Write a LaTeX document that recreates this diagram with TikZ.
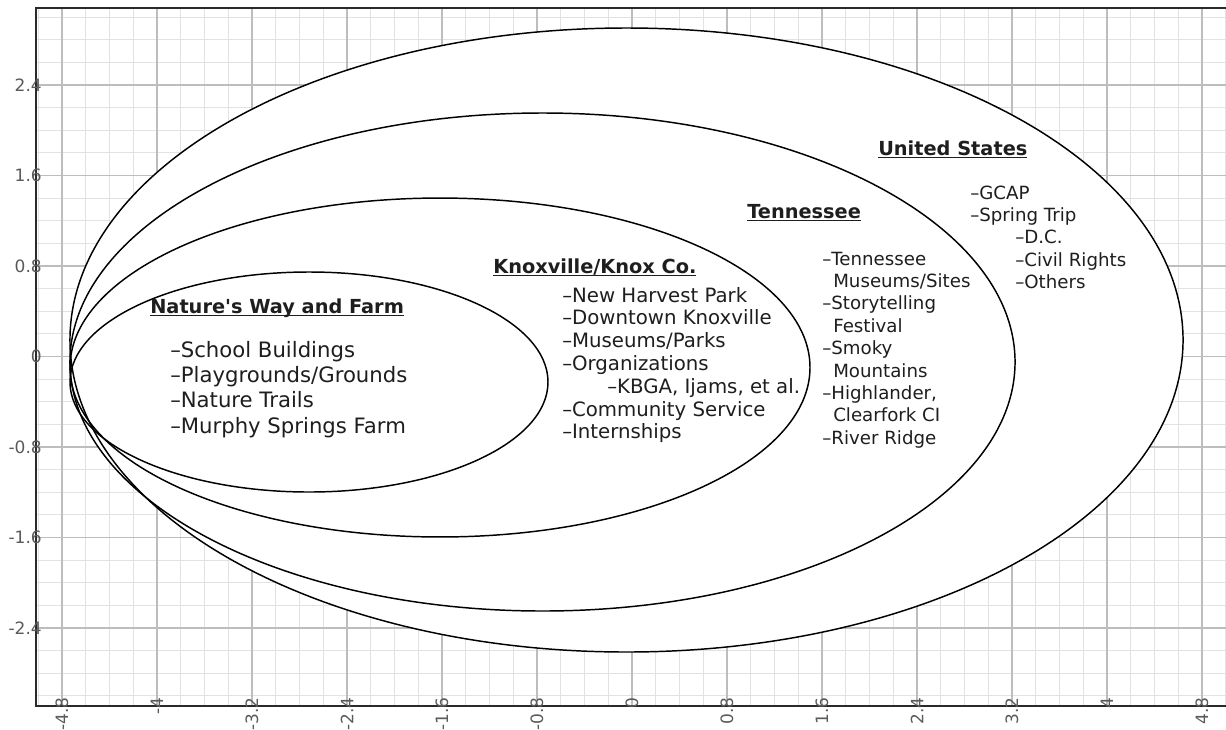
\documentclass[tikz,border=0pt]{standalone}
\usepackage{fontspec}
\setmainfont{DejaVu Sans}
\definecolor{txt}{HTML}{1E1E1E}
\definecolor{gridminor}{HTML}{E2E2E2}
\definecolor{gridmajor}{HTML}{BDBDBD}
\definecolor{ticklab}{HTML}{5A5A5A}
\definecolor{framec}{HTML}{2A2A2A}
\newcommand\hdul[1]{\setbox0\hbox{#1}\rlap{\rule[-2.6pt]{\wd0}{1.1pt}}\box0}
\begin{document}
\begin{tikzpicture}[x=0.75pt,y=-0.75pt,
  heading/.style={anchor=base west, inner sep=0pt, text=txt, font=\fontsize{14.5pt}{17pt}\selectfont\bfseries},
  itemA/.style={anchor=base west, inner sep=0pt, text=txt, font=\fontsize{15.9pt}{19pt}\selectfont},
  itemB/.style={anchor=base west, inner sep=0pt, text=txt, font=\fontsize{14.8pt}{17pt}\selectfont},
  itemC/.style={anchor=base west, inner sep=0pt, text=txt, font=\fontsize{13.65pt}{16pt}\selectfont},
  ylab/.style={anchor=east, inner sep=0pt, text=ticklab, font=\fontsize{12.75pt}{15pt}\selectfont},
  xlab/.style={anchor=east, rotate=90, inner sep=0pt, text=ticklab, font=\fontsize{12.75pt}{15pt}\selectfont},
  region/.style={draw=black, line width=1.1pt},
  minorline/.style={draw=gridminor, line width=0.8pt},
  majorline/.style={draw=gridmajor, line width=1.3pt}
]
\useasboundingbox (0,0) rectangle (1226,729);
\fill[white] (0,0) rectangle (1226,729);
% grid
\foreach \k in {-25,...,25}{
  \pgfmathsetmacro\xx{632+23.75*\k}
  \draw[minorline] (\xx,8.3) -- (\xx,706);
}
\foreach \k in {-15,...,15}{
  \pgfmathsetmacro\yy{356.5+22.62*\k}
  \draw[minorline] (36,\yy) -- (1226,\yy);
}
\foreach \k in {-24,-20,...,24}{
  \pgfmathsetmacro\xx{632+23.75*\k}
  \draw[majorline] (\xx,8.3) -- (\xx,706);
}
\foreach \k in {-12,-8,...,12}{
  \pgfmathsetmacro\yy{356.5+22.62*\k}
  \draw[majorline] (36,\yy) -- (1226,\yy);
}
% regions
\fill[white] (626.5,340) ellipse [x radius=417.4pt, y radius=234pt];
\fill[white] (542.5,362) ellipse [x radius=354.4pt, y radius=186.75pt];
\fill[white] (440,367.5) ellipse [x radius=277.5pt, y radius=127.1pt];
\fill[white] (309,382) ellipse [x radius=179.25pt, y radius=82.5pt];
\draw[region] (626.5,340) ellipse [x radius=417.4pt, y radius=234pt];
\draw[region] (542.5,362) ellipse [x radius=354.4pt, y radius=186.75pt];
\draw[region] (440,367.5) ellipse [x radius=277.5pt, y radius=127.1pt];
\draw[region] (309,382) ellipse [x radius=179.25pt, y radius=82.5pt];
% frame
\draw[framec, line width=1.5pt] (1226,8.3) -- (36,8.3) -- (36,706) -- (1226,706);
% y labels
\node[ylab] (y1) at (42,85) {2.4};
\node[ylab] (y2) at (42,175.5) {1.6};
\node[ylab] (y3) at (42,266) {0.8};
\node[ylab] (y4) at (42,356.5) {0};
\node[ylab] (y5) at (42,447) {-0.8};
\node[ylab] (y6) at (42,537.5) {-1.6};
\node[ylab] (y7) at (42,628) {-2.4};
% x labels
\node[xlab] (x1) at (62,697) {-4.8};
\node[xlab] (x2) at (157,697) {-4};
\node[xlab] (x3) at (252,697) {-3.2};
\node[xlab] (x4) at (347,697) {-2.4};
\node[xlab] (x5) at (442,697) {-1.6};
\node[xlab] (x6) at (537,697) {-0.8};
\node[xlab] (x7) at (632,697) {0};
\node[xlab] (x8) at (727,697) {0.8};
\node[xlab] (x9) at (822,697) {1.6};
\node[xlab] (x10) at (917,697) {2.4};
\node[xlab] (x11) at (1012,697) {3.2};
\node[xlab] (x12) at (1107,697) {4};
\node[xlab] (x13) at (1202,697) {4.8};
% Nature's Way
\node[heading] (nh) at (150,313) {\hdul{Nature\textquotesingle s Way and Farm}};
\node[itemA] (n1) at (170,357) {\textendash School Buildings};
\node[itemA] (n2) at (170,382.3) {\textendash Playgrounds/Grounds};
\node[itemA] (n3) at (170,407.6) {\textendash Nature Trails};
\node[itemA] (n4) at (170,433) {\textendash Murphy Springs Farm};
% Knoxville
\node[heading] (kh) at (493,273) {\hdul{Knoxville/Knox Co.}};
\node[itemB] (k1) at (562,302) {\textendash New Harvest Park};
\node[itemB] (k2) at (562,324.8) {\textendash Downtown Knoxville};
\node[itemB] (k3) at (562,347.6) {\textendash Museums/Parks};
\node[itemB] (k4) at (562,370.4) {\textendash Organizations};
\node[itemB] (k5) at (607,393.2) {\textendash KBGA, Ijams, et al.};
\node[itemB] (k6) at (562,416) {\textendash Community Service};
\node[itemB] (k7) at (562,438.8) {\textendash Internships};
% Tennessee
\node[heading] (th) at (747,218) {\hdul{Tennessee}};
\node[itemC] (t1) at (822,265) {\textendash Tennessee};
\node[itemC] (t2) at (833,287.4) {Museums/Sites};
\node[itemC] (t3) at (822,309.8) {\textendash Storytelling};
\node[itemC] (t4) at (833,332.2) {Festival};
\node[itemC] (t5) at (822,354.6) {\textendash Smoky};
\node[itemC] (t6) at (833,377) {Mountains};
\node[itemC] (t7) at (822,399.4) {\textendash Highlander,};
\node[itemC] (t8) at (833,421.8) {Clearfork CI};
\node[itemC] (t9) at (822,444.2) {\textendash River Ridge};
% United States
\node[heading] (uh) at (878,155) {\hdul{United States}};
\node[itemC] (u1) at (970,199) {\textendash GCAP};
\node[itemC] (u2) at (970,221.4) {\textendash Spring Trip};
\node[itemC] (u3) at (1015,243.8) {\textendash D.C.};
\node[itemC] (u4) at (1015,266.2) {\textendash Civil Rights};
\node[itemC] (u5) at (1015,288.6) {\textendash Others};
\end{tikzpicture}
\end{document}
